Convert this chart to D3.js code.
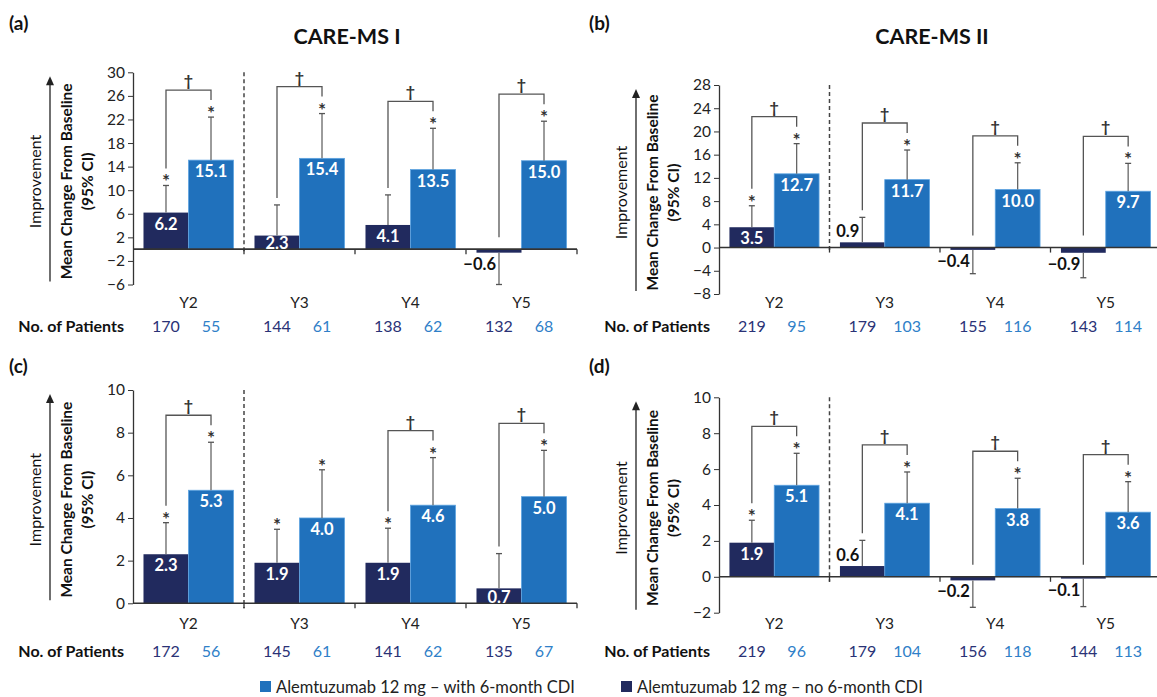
<!DOCTYPE html>
<html>
<head>
<meta charset="utf-8">
<script src="https://cdn.jsdelivr.net/npm/d3@7"></script>
<style>
    body { margin: 0; background: #fff; }
    svg { font-family: Lato, "Open Sans", sans-serif; }
</style>
</head>
<body>
<div id="vis"></div>
<script>
// Categories shared by all four panels
var years = ['Y2', 'Y3', 'Y4', 'Y5'];
var seriesKeys = ['no', 'with'];
var legendLabels = ['Alemtuzumab 12 mg \u2013 with 6-month CDI', 'Alemtuzumab 12 mg \u2013 no 6-month CDI'];

// (a) CARE-MS I
var aNo = [6.2, 2.3, 4.1, -0.6];
var aNoCi = [10.8, 7.5, 9.2, -6.0];
var aWith = [15.1, 15.4, 13.5, 15.0];
var aWithCi = [22.4, 23.0, 20.5, 21.7];
var aNoStar = [1, 0, 0, 0];
var aWithStar = [1, 1, 1, 1];
var aDagger = [1, 1, 1, 1];
var aPatientsNo = [170, 144, 138, 132];
var aPatientsWith = [55, 61, 62, 68];
var aTicks = [-6, -2, 2, 6, 10, 14, 18, 22, 26, 30];

// (b) CARE-MS II
var bNo = [3.5, 0.9, -0.4, -0.9];
var bNoCi = [7.2, 5.2, -4.5, -5.2];
var bWith = [12.7, 11.7, 10.0, 9.7];
var bWithCi = [17.9, 16.8, 14.6, 14.5];
var bNoStar = [1, 0, 0, 0];
var bWithStar = [1, 1, 1, 1];
var bDagger = [1, 1, 1, 1];
var bPatientsNo = [219, 179, 155, 143];
var bPatientsWith = [95, 103, 116, 114];
var bTicks = [-8, -4, 0, 4, 8, 12, 16, 20, 24, 28];

// (c) CARE-MS I
var cNo = [2.3, 1.9, 1.9, 0.7];
var cNoCi = [3.78, 3.47, 3.52, 2.33];
var cWith = [5.3, 4.0, 4.6, 5.0];
var cWithCi = [7.55, 6.26, 6.83, 7.17];
var cNoStar = [1, 1, 1, 0];
var cWithStar = [1, 1, 1, 1];
var cDagger = [1, 0, 1, 1];
var cPatientsNo = [172, 145, 141, 135];
var cPatientsWith = [56, 61, 62, 67];
var cTicks = [0, 2, 4, 6, 8, 10];

// (d) CARE-MS II
var dNo = [1.9, 0.6, -0.2, -0.1];
var dNoCi = [3.15, 2.03, -1.70, -1.66];
var dWith = [5.1, 4.1, 3.8, 3.6];
var dWithCi = [6.88, 5.84, 5.49, 5.30];
var dNoStar = [1, 0, 0, 0];
var dWithStar = [1, 1, 1, 1];
var dDagger = [1, 1, 1, 1];
var dPatientsNo = [219, 179, 156, 144];
var dPatientsWith = [96, 104, 118, 113];
var dTicks = [-2, 0, 2, 4, 6, 8, 10];

var colors = { no: '#212a5e', with: '#2071bc' };
var numColors = { no: '#2a3276', with: '#2f80c8' };

var width = 1157, height = 697;

var svg = d3.select('#vis').append('svg')
    .attr('width', width)
    .attr('height', height);

// Panel layout (pixel frames only)
var panels = [
    { letter: '(a)', title: 'CARE-MS I', no: aNo, noCi: aNoCi, wi: aWith, wiCi: aWithCi, noStar: aNoStar, wiStar: aWithStar,
      dagger: aDagger, nNo: aPatientsNo, nWi: aPatientsWith, ticks: aTicks,
      xr: [133, 577], yr: [284.5, 72.3], letterX: 9, letterY: 22, labelY: 302, nY: 325 },
    { letter: '(b)', title: 'CARE-MS II', no: bNo, noCi: bNoCi, wi: bWith, wiCi: bWithCi, noStar: bNoStar, wiStar: bWithStar,
      dagger: bDagger, nNo: bPatientsNo, nWi: bPatientsWith, ticks: bTicks,
      xr: [719, 1161], yr: [294, 85], letterX: 589, letterY: 22, labelY: 302, nY: 325 },
    { letter: '(c)', title: null, no: cNo, noCi: cNoCi, wi: cWith, wiCi: cWithCi, noStar: cNoStar, wiStar: cWithStar,
      dagger: cDagger, nNo: cPatientsNo, nWi: cPatientsWith, ticks: cTicks,
      xr: [133, 577], yr: [603.3, 390], letterX: 9, letterY: 365, labelY: 623, nY: 650 },
    { letter: '(d)', title: null, no: dNo, noCi: dNoCi, wi: dWith, wiCi: dWithCi, noStar: dNoStar, wiStar: dWithStar,
      dagger: dDagger, nNo: dPatientsNo, nWi: dPatientsWith, ticks: dTicks,
      xr: [719, 1161], yr: [612.7, 397.3], letterX: 589, letterY: 365, labelY: 623, nY: 650 }
];

function fmt(v) {
    return (v < 0 ? '\u2212' : '') + Math.abs(v).toFixed(1);
}

function drawPanel(p) {
    var g = svg.append('g');

    var x0 = d3.scaleBand().domain(years).range(p.xr);
    var x1 = d3.scaleBand().domain(seriesKeys).range([0, x0.bandwidth()])
        .paddingInner(0).paddingOuter(0.233);
    var y = d3.scaleLinear().domain(d3.extent(p.ticks)).range(p.yr);
    var y0 = y(0);

    var rows = years.map(function(yr, i) {
        return {
            year: yr,
            dagger: p.dagger[i],
            bars: [
                { key: 'no', v: p.no[i], ci: p.noCi[i], star: p.noStar[i], n: p.nNo[i] },
                { key: 'with', v: p.wi[i], ci: p.wiCi[i], star: p.wiStar[i], n: p.nWi[i] }
            ]
        };
    });
    function cx(row, b) { return x0(row.year) + x1(b.key) + x1.bandwidth() / 2; }

    // Letter and title
    g.append('text').attr('x', p.letterX).attr('y', p.letterY)
        .attr('dominant-baseline', 'central')
        .style('font-size', '19px').style('font-weight', 700).attr('fill', '#111')
        .text(p.letter);
    if (p.title) {
        g.append('text').attr('x', (p.xr[0] + p.xr[1]) / 2 - 8).attr('y', 36)
            .attr('text-anchor', 'middle').attr('dominant-baseline', 'central')
            .style('font-size', '21.5px').style('font-weight', 700).attr('fill', '#111')
            .text(p.title);
    }

    // Left-side labels
    var midY = (p.yr[0] + p.yr[1]) / 2 + 3;
    var ax = p.xr[0];
    g.append('text')
        .attr('transform', 'translate(' + (ax - 99) + ',' + midY + ') rotate(-90)')
        .attr('text-anchor', 'middle').attr('dominant-baseline', 'central')
        .style('font-size', '16px').attr('fill', '#111')
        .text('Improvement');
    g.append('text')
        .attr('transform', 'translate(' + (ax - 67) + ',' + midY + ') rotate(-90)')
        .attr('text-anchor', 'middle').attr('dominant-baseline', 'central')
        .style('font-size', '15.5px').style('font-weight', 700).attr('fill', '#111')
        .text('Mean Change From Baseline');
    g.append('text')
        .attr('transform', 'translate(' + (ax - 46) + ',' + midY + ') rotate(-90)')
        .attr('text-anchor', 'middle').attr('dominant-baseline', 'central')
        .style('font-size', '15.5px').style('font-weight', 700).attr('fill', '#111')
        .text('(95% CI)');
    // Improvement arrow
    var arrX = ax - 83, arrTop = p.yr[1] + 4, arrBot = p.yr[0] - 3;
    g.append('line').attr('x1', arrX).attr('x2', arrX).attr('y1', arrBot).attr('y2', arrTop + 8)
        .attr('stroke', '#222').attr('stroke-width', 1.3);
    g.append('path')
        .attr('d', 'M' + (arrX - 4) + ',' + (arrTop + 9) + 'L' + arrX + ',' + arrTop + 'L' + (arrX + 4) + ',' + (arrTop + 9) + 'Z')
        .attr('fill', '#222');

    // Y axis
    var yAxis = d3.axisLeft(y).tickValues(p.ticks).tickSizeInner(5).tickSizeOuter(0).tickPadding(3)
        .tickFormat(d3.format('d'));
    var ya = g.append('g').attr('transform', 'translate(' + ax + ',0)').call(yAxis);
    ya.attr('font-family', null).attr('font-size', null);
    ya.selectAll('text').style('font-size', '15.5px').attr('fill', '#222');
    ya.selectAll('line').attr('stroke', '#333');
    ya.select('.domain').attr('stroke', '#333').attr('stroke-width', 1.3);

    // Dashed separator between Y2 and the later years
    g.append('line')
        .attr('x1', x0('Y3')).attr('x2', x0('Y3'))
        .attr('y1', p.yr[1]).attr('y2', y0 + 5)
        .attr('stroke', '#444').attr('stroke-width', 1.5).attr('stroke-dasharray', '4,3');

    // Bars
    var groups = g.selectAll('.grp').data(rows).enter().append('g').attr('class', 'grp');
    groups.selectAll('rect').data(function(d) { return d.bars; }).enter().append('rect')
        .attr('x', function(b) { return x0(d3.select(this.parentNode).datum().year) + x1(b.key); })
        .attr('y', function(b) { return y(Math.max(b.v, 0)); })
        .attr('width', x1.bandwidth())
        .attr('height', function(b) { return Math.abs(y(b.v) - y0); })
        .attr('fill', function(b) { return colors[b.key]; })
        .attr('stroke', function(b) { return b.key === 'with' ? '#5ea4e0' : 'none'; })
        .attr('stroke-width', 0.8);

    // X axis along zero with boundary ticks
    g.append('line').attr('x1', p.xr[0]).attr('x2', p.xr[1]).attr('y1', y0).attr('y2', y0)
        .attr('stroke', '#333').attr('stroke-width', 1.6);
    var bounds = years.slice(1).map(function(yr) { return x0(yr); }).concat([p.xr[1]]);
    g.selectAll('.xt').data(bounds).enter().append('line')
        .attr('x1', function(d) { return d; }).attr('x2', function(d) { return d; })
        .attr('y1', y0).attr('y2', y0 + 5)
        .attr('stroke', '#333').attr('stroke-width', 1.3);

    rows.forEach(function(row) {
        row.bars.forEach(function(b) {
            var x = cx(row, b);
            // one-sided CI whisker
            g.append('line').attr('x1', x).attr('x2', x).attr('y1', y(b.v)).attr('y2', y(b.ci))
                .attr('stroke', '#666').attr('stroke-width', 1.3);
            g.append('line').attr('x1', x - 3).attr('x2', x + 3).attr('y1', y(b.ci)).attr('y2', y(b.ci))
                .attr('stroke', '#555').attr('stroke-width', 1.3);
            if (b.star) {
                g.append('text').attr('x', x).attr('y', y(b.ci) + 3)
                    .attr('text-anchor', 'middle')
                    .style('font-size', '19px').style('font-weight', 700).attr('fill', '#333')
                    .text('*');
            }
            // value labels
            var top = y(Math.max(b.v, 0)), bot = y(Math.min(b.v, 0));
            if (b.v > 0 && bot - top >= 12) {
                g.append('text').attr('x', x).attr('y', Math.min(top + 11, y0 - 6))
                    .attr('text-anchor', 'middle').attr('dominant-baseline', 'central')
                    .style('font-size', '16.5px').style('font-weight', 700).attr('fill', '#fff')
                    .text(fmt(b.v));
            } else {
                g.append('text').attr('x', x - 3)
                    .attr('y', b.v >= 0 ? top - 11 : bot + 11)
                    .attr('text-anchor', 'end').attr('dominant-baseline', 'central')
                    .style('font-size', '16.5px').style('font-weight', 700).attr('fill', '#111')
                    .text(fmt(b.v));
            }
            // patient numbers
            g.append('text').attr('x', x).attr('y', p.nY)
                .attr('text-anchor', 'middle').attr('dominant-baseline', 'central')
                .style('font-size', '16px').attr('fill', numColors[b.key])
                .text(b.n);
        });

        // year label
        g.append('text').attr('x', x0(row.year) + x0.bandwidth() / 2).attr('y', p.labelY)
            .attr('text-anchor', 'middle').attr('dominant-baseline', 'central')
            .style('font-size', '15.5px').attr('fill', '#222')
            .text(row.year);

        // significance bracket between groups
        if (row.dagger) {
            var bn = row.bars[0], bw = row.bars[1];
            var xl = cx(row, bn), xr = cx(row, bw);
            var by = Math.min(y(bn.ci), y(bw.ci)) - 27;
            var lb = bn.star ? y(bn.ci) - 17 : (bn.ci > 0 ? y(bn.ci) - 7 : y0 - 12);
            var rb = y(bw.ci) - 17;
            g.append('path')
                .attr('d', 'M' + xl + ',' + lb + 'V' + by + 'H' + xr + 'V' + rb)
                .attr('fill', 'none').attr('stroke', '#555').attr('stroke-width', 1.3);
            g.append('text').attr('x', (xl + xr) / 2).attr('y', by - 4)
                .attr('text-anchor', 'middle')
                .style('font-size', '16px').style('font-weight', 700).attr('fill', '#333')
                .text('\u2020');
        }
    });

    // "No. of Patients"
    g.append('text').attr('x', ax - 9).attr('y', p.nY)
        .attr('text-anchor', 'end').attr('dominant-baseline', 'central')
        .style('font-size', '16px').style('font-weight', 700).attr('fill', '#111')
        .text('No. of Patients');
}

panels.forEach(drawPanel);

// Legend
var legendX = [260, 621];
var legendKeys = ['with', 'no'];
var legend = svg.append('g');
legendKeys.forEach(function(k, i) {
    legend.append('rect').attr('x', legendX[i]).attr('y', 681).attr('width', 11).attr('height', 11)
        .attr('fill', colors[k]);
    legend.append('text').attr('x', legendX[i] + 16).attr('y', 687)
        .attr('dominant-baseline', 'central')
        .style('font-size', '16.5px').attr('fill', '#222')
        .text(legendLabels[i]);
});
</script>
</body>
</html>
